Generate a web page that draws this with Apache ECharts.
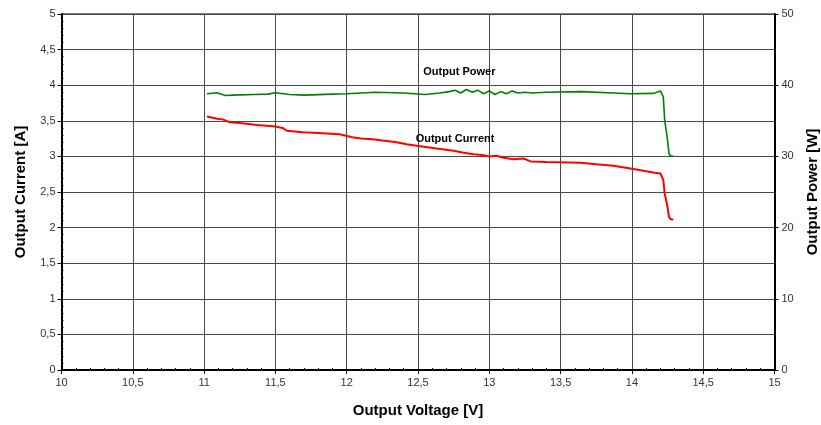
<!DOCTYPE html>
<html>
<head>
<meta charset="utf-8">
<script src="https://cdn.jsdelivr.net/npm/echarts@6/dist/echarts.min.js"></script>
<style>
  html, body { margin: 0; padding: 0; background: #fff; }
  #chart { width: 821px; height: 425px; }
</style>
</head>
<body>
<div id="chart"></div>
<script>
// Output current vs. output voltage (left axis, A)
var currentVolts = [11.02, 11.09, 11.13, 11.18, 11.25, 11.37, 11.50, 11.55, 11.58, 11.69, 11.80, 11.95, 12.04, 12.10, 12.18, 12.35, 12.42, 12.49, 12.63, 12.75, 12.82, 12.89, 12.95, 13.00, 13.05, 13.10, 13.17, 13.24, 13.29, 13.40, 13.64, 13.75, 13.87, 13.99, 14.10, 14.16, 14.20, 14.22, 14.23, 14.25, 14.26, 14.27, 14.29];
var currentAmps  = [3.56, 3.53, 3.52, 3.48, 3.47, 3.44, 3.42, 3.40, 3.36, 3.34, 3.33, 3.31, 3.27, 3.25, 3.24, 3.20, 3.17, 3.15, 3.11, 3.08, 3.05, 3.03, 3.02, 3.00, 3.01, 2.98, 2.96, 2.97, 2.93, 2.92, 2.91, 2.89, 2.87, 2.83, 2.79, 2.77, 2.76, 2.67, 2.48, 2.29, 2.15, 2.12, 2.11];

// Output power vs. output voltage (right axis, W)
var powerVolts = [11.02, 11.09, 11.15, 11.20, 11.35, 11.45, 11.50, 11.60, 11.70, 11.90, 12.00, 12.20, 12.40, 12.55, 12.65, 12.72, 12.76, 12.80, 12.84, 12.88, 12.92, 12.96, 13.00, 13.04, 13.08, 13.12, 13.16, 13.20, 13.25, 13.30, 13.40, 13.64, 13.87, 13.99, 14.15, 14.20, 14.22, 14.23, 14.25, 14.26, 14.27, 14.29];
var powerWatts = [38.8, 38.95, 38.55, 38.6, 38.7, 38.75, 38.95, 38.7, 38.6, 38.75, 38.8, 39.0, 38.9, 38.7, 38.9, 39.1, 39.3, 38.9, 39.4, 39.0, 39.3, 38.8, 39.2, 38.7, 39.1, 38.8, 39.2, 38.9, 39.0, 38.9, 39.0, 39.1, 38.9, 38.8, 38.85, 39.2, 38.4, 35.1, 32.3, 30.4, 30.1, 30.0];

// Axis ranges
var voltRange = [10, 15, 0.5];
var ampRange = [0, 5, 0.5];
var wattRange = [0, 50, 10];

// Curve annotations: [voltage, value]
var powerNote = { text: 'Output Power', at: [12.79, 41.85] };
var currentNote = { text: 'Output Current', at: [12.76, 3.24] };

function zip(xs, ys) {
  return xs.map(function (x, i) { return [x, ys[i]]; });
}
function comma(v) { return String(v).replace('.', ','); }

var font = 'Liberation Sans, Arial, sans-serif';
var labelStyle = { color: '#333', fontSize: 11, fontFamily: font };
var nameStyle = { color: '#000', fontSize: 15, fontWeight: 'bold', fontFamily: font };
var gridLine = { show: true, lineStyle: { color: '#484848', width: 1 } };

function note(n) {
  return {
    symbol: 'rect', symbolSize: 1, silent: true,
    itemStyle: { color: 'rgba(0,0,0,0)' },
    label: { show: true, position: 'inside', formatter: n.text, color: '#000', fontSize: 11, fontWeight: 'bold', fontFamily: font },
    data: [{ coord: n.at }]
  };
}

var chart = echarts.init(document.getElementById('chart'), null, { renderer: 'canvas' });
chart.setOption({
  animation: false,
  backgroundColor: '#fff',
  grid: {
    left: 61.5, right: 46.5, top: 14, bottom: 55,
    outerBoundsMode: 'none', containLabel: false,
    show: true, borderColor: '#000', borderWidth: 1, backgroundColor: 'transparent'
  },
  xAxis: [{
    type: 'value', position: 'bottom', min: voltRange[0], max: voltRange[1], interval: voltRange[2],
    name: 'Output Voltage [V]', nameLocation: 'middle', nameGap: 33, nameTextStyle: nameStyle,
    axisLine: { show: true, lineStyle: { color: '#000', width: 2 } },
    axisTick: { show: true, length: 4, lineStyle: { color: '#000' } },
    axisLabel: Object.assign({ formatter: comma, margin: 7 }, labelStyle),
    splitLine: gridLine
  }, {
    // inner minor ticks along the voltage axis
    type: 'value', position: 'bottom', min: voltRange[0], max: voltRange[1], interval: voltRange[2],
    axisLine: { show: false },
    axisTick: { show: false, inside: true },
    minorTick: { show: true, splitNumber: 5, length: 2, lineStyle: { color: '#000' } },
    axisLabel: { show: false }, splitLine: { show: false }
  }],
  yAxis: [{
    type: 'value', position: 'left', min: ampRange[0], max: ampRange[1], interval: ampRange[2],
    name: 'Output Current [A]', nameLocation: 'middle', nameGap: 33, nameTextStyle: nameStyle,
    axisLine: { show: true, lineStyle: { color: '#000', width: 2 } },
    axisTick: { show: true, length: 4, lineStyle: { color: '#000' } },
    axisLabel: Object.assign({ formatter: comma, margin: 6 }, labelStyle),
    splitLine: gridLine
  }, {
    type: 'value', position: 'right', min: wattRange[0], max: wattRange[1], interval: wattRange[2],
    name: 'Output Power [W]', nameLocation: 'middle', nameGap: 31, nameTextStyle: nameStyle,
    axisLine: { show: true, lineStyle: { color: '#000', width: 2 } },
    axisTick: { show: true, length: 4, lineStyle: { color: '#000' } },
    axisLabel: Object.assign({ margin: 7 }, labelStyle),
    splitLine: { show: false }
  }, {
    // inner minor ticks along the current axis
    type: 'value', position: 'left', min: ampRange[0], max: ampRange[1], interval: ampRange[2],
    axisLine: { show: false },
    axisTick: { show: false, inside: true },
    minorTick: { show: true, splitNumber: 5, length: 2, lineStyle: { color: '#000' } },
    axisLabel: { show: false }, splitLine: { show: false }
  }],
  series: [{
    name: 'Output Power', type: 'line', xAxisIndex: 0, yAxisIndex: 1,
    data: zip(powerVolts, powerWatts), showSymbol: false,
    lineStyle: { color: '#008000', width: 1.6 }, itemStyle: { color: '#008000' },
    markPoint: note(powerNote)
  }, {
    name: 'Output Current', type: 'line', xAxisIndex: 0, yAxisIndex: 0,
    data: zip(currentVolts, currentAmps), showSymbol: false,
    lineStyle: { color: '#ff0000', width: 2 }, itemStyle: { color: '#ff0000' },
    markPoint: note(currentNote)
  }]
});
</script>
</body>
</html>
